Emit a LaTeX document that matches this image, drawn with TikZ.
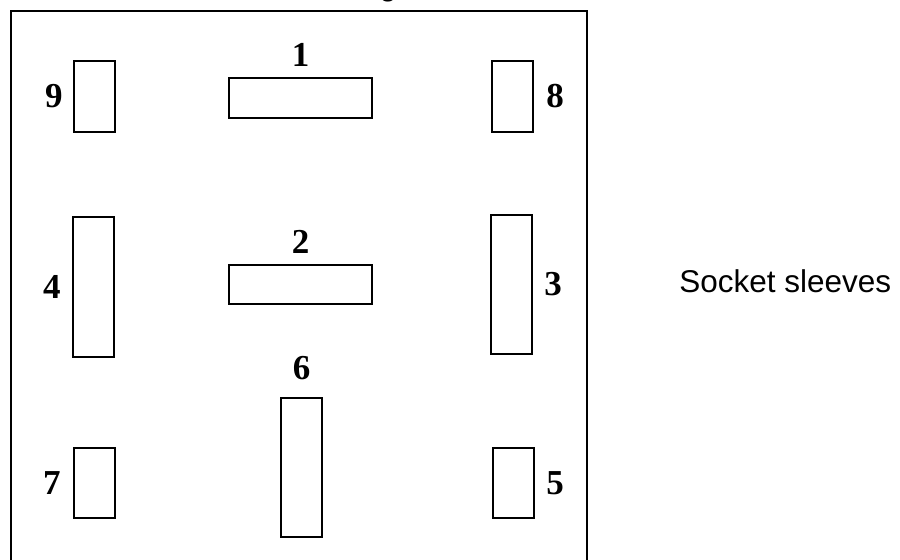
\documentclass[tikz,border=0pt]{standalone}
\usepackage{fontspec}
\setmainfont{Liberation Serif}
\newfontfamily\captionsans{Liberation Sans}
\usetikzlibrary{positioning}
\tikzset{
	sleeve/.style={draw, line width=0.8pt, inner sep=0pt, minimum width=20.75pt},
	short/.style={sleeve, minimum height=35.25pt},
	tall/.style={sleeve, minimum height=69.75pt},
	flat/.style={draw, line width=0.8pt, inner sep=0pt, minimum width=71.75pt, minimum height=19.75pt},
	num/.style={inner sep=0pt, font=\bfseries\fontsize{17.5}{20}\selectfont}
}

\begin{document}
\begin{tikzpicture}[x=0.5pt, y=-0.5pt]

	\useasboundingbox (0,0) rectangle (900,559);

	% Draw the outer frame (cut off at the bottom)
	\draw[line width=1.1pt] (11,600) -- (11,11) -- (587,11) -- (587,600);
	\node[anchor=base west, inner sep=0pt, font=\captionsans\fontsize{15.75}{18}\selectfont] (head) at (379,-5) {g};

	% Top row
	\node[short] (s9) at (94.5,96.5) {};
	\node[flat]  (s1) at (300.5,98) {};
	\node[short] (s8) at (512.5,96.5) {};
	\node[num, left=5pt of s9]  (n9) {9};
	\node[num, above=5.5pt of s1] (n1) {1};
	\node[num, right=6pt of s8] (n8) {8};

	% Middle row
	\node[tall] (s4) at (93.5,287) {};
	\node[flat] (s2) at (300.5,284.5) {};
	\node[tall] (s3) at (511.5,284.5) {};
	\node[num, left=5.5pt of s4]  (n4) {4};
	\node[num, above=5pt of s2]   (n2) {2};
	\node[num, right=5.5pt of s3] (n3) {3};

	% Bottom row
	\node[short] (s7) at (94.5,483) {};
	\node[tall]  (s6) at (301.5,467.5) {};
	\node[short] (s5) at (513.5,483) {};
	\node[num, left=6pt of s7]  (n7) {7};
	\node[num, above=8.5pt of s6] (n6) {6};
	\node[num, right=5.5pt of s5] (n5) {5};

	% Caption
	\node[anchor=base west, inner sep=0pt, font=\captionsans\fontsize{15.75}{18}\selectfont] (caption) at (679,292) {Socket sleeves};

\end{tikzpicture}
\end{document}
